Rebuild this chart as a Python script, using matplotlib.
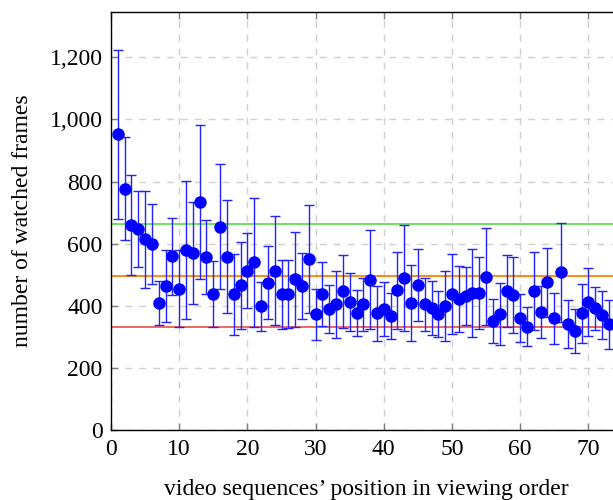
import matplotlib
matplotlib.use('Agg')
import matplotlib.pyplot as plt
from matplotlib.ticker import FuncFormatter

# position in viewing order
positions = list(range(1, 74))

# mean number of watched frames per position
means = [952, 777, 660, 647, 614, 600, 409, 465, 560, 456,
         581, 570, 735, 557, 439, 655, 559, 438, 467, 514,
         540, 399, 475, 514, 438, 439, 486, 465, 550, 374,
         438, 390, 405, 447, 412, 376, 405, 485, 376, 391,
         368, 451, 489, 409, 468, 406, 393, 373, 400, 438,
         423, 432, 441, 443, 494, 352, 373, 448, 436, 362,
         333, 449, 380, 476, 360, 508, 342, 320, 376, 413,
         393, 371, 341]

# half width of the error bars
errors = [272, 165, 160, 123, 155, 128, 70, 115, 124, 125,
          222, 164, 248, 118, 107, 201, 182, 130, 140, 122,
          208, 78, 117, 174, 111, 110, 152, 106, 174, 82,
          103, 77, 108, 117, 94, 74, 84, 160, 88, 87,
          73, 124, 170, 122, 115, 85, 86, 74, 114, 128,
          106, 92, 141, 116, 156, 70, 100, 115, 122, 77,
          63, 126, 84, 110, 81, 158, 76, 70, 94, 109,
          69, 77, 78]

# reference levels
level_green = 665
level_orange = 495
level_red = 331

plt.rcParams['font.family'] = ['Liberation Serif', 'DejaVu Serif']
plt.rcParams['font.size'] = 17

fig = plt.figure(figsize=(6.13, 5.0), dpi=100)
ax = fig.add_axes([0.1811, 0.1392, 0.8344, 0.8374])

ax.axhline(level_green, color='#66dd55', lw=1.3, zorder=2)
ax.axhline(level_orange, color='#ff8000', lw=1.3, zorder=2)
ax.axhline(level_red, color='#f05a5a', lw=1.3, zorder=2)

ax.errorbar(positions, means, yerr=errors, fmt='o', color='#0000ff',
            ecolor='#2222ff', elinewidth=1.0, capsize=3.5, capthick=1.0,
            markersize=8, zorder=3)

ax.set_xlim(0, 75)
ax.set_ylim(0, 1346)
ax.set_xticks(range(0, 80, 10))
ax.set_yticks(range(0, 1400, 200))
ax.yaxis.set_major_formatter(FuncFormatter(lambda v, p: f'{int(v):,}'))

ax.grid(True, color='#d0d0d0', linestyle=(0, (5, 5)), lw=1.0, zorder=0)
ax.tick_params(direction='in', length=5, color='#808080', width=1.0,
               top=True, right=True, pad=6)
for s in ax.spines.values():
    s.set_linewidth(1.0)

ax.set_xlabel('video sequences\u2019 position in viewing order', labelpad=14)
ax.set_ylabel('number of watched frames', labelpad=12)

fig.savefig('out.png', dpi=100)
